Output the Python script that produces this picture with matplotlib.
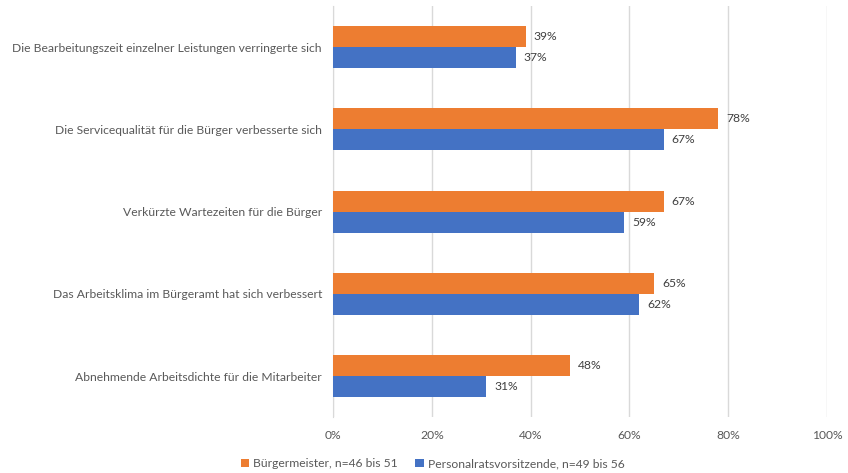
import matplotlib.pyplot as plt
import numpy as np

categories = [
    "Die Bearbeitungszeit einzelner Leistungen verringerte sich",
    "Die Servicequalität für die Bürger verbesserte sich",
    "Verkürzte Wartezeiten für die Bürger",
    "Das Arbeitsklima im Bürgeramt hat sich verbessert",
    "Abnehmende Arbeitsdichte für die Mitarbeiter",
]
buergermeister = [39, 78, 67, 65, 48]
personalrat = [37, 67, 59, 62, 31]
series_names = ["Bürgermeister, n=46 bis 51", "Personalratsvorsitzende, n=49 bis 56"]

plt.rcParams['font.family'] = ['Lato', 'DejaVu Sans']
txt = "#595959"

fig = plt.figure(figsize=(8.48, 4.73), dpi=100)
ax = fig.add_axes([0.3927, 0.118, 0.5825, 0.869])

y = np.arange(len(categories))
h = 0.255
b1 = ax.barh(y - h / 2, buergermeister, height=h, color="#ED7D31", label=series_names[0], zorder=3)
b2 = ax.barh(y + h / 2, personalrat, height=h, color="#4472C4", label=series_names[1], zorder=3)

for bars, vals in [(b1, buergermeister), (b2, personalrat)]:
    for bar, v in zip(bars, vals):
        ax.text(v + 1.6, bar.get_y() + bar.get_height() / 2, f"{v}%",
                va="center", ha="left", fontsize=8.7, color="#404040")

ax.set_xlim(0, 100)
ax.set_ylim(len(categories) - 0.5, -0.5)
ax.set_xticks(range(0, 101, 20))
ax.set_xticklabels([f"{t}%" for t in range(0, 101, 20)], color=txt, fontsize=8.7)
ax.set_yticks(y)
ax.set_yticklabels(categories, color=txt, fontsize=8.7)
ax.tick_params(axis="both", length=0)
ax.tick_params(axis="y", pad=8)
ax.tick_params(axis="x", pad=9)
ax.grid(axis="x", color="#D9D9D9", linewidth=1, zorder=0)
for s in ["top", "right", "bottom"]:
    ax.spines[s].set_visible(False)
ax.spines["left"].set_color("#D9D9D9")

fig.legend(handles=[b1, b2], loc="center", bbox_to_anchor=(0.51, 0.02), ncol=2, frameon=False,
           fontsize=8.7, labelcolor=txt, handlelength=0.7, handleheight=0.7, handletextpad=0.3,
           columnspacing=1.5)

fig.savefig("out.png", dpi=100)
